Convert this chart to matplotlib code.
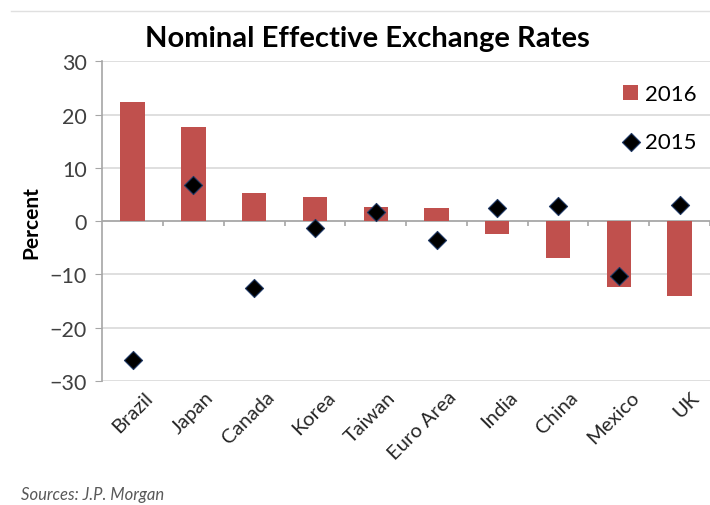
import matplotlib.pyplot as plt
import matplotlib.transforms as mtransforms
import numpy as np

plt.rcParams['font.family'] = ['Lato', 'DejaVu Sans']

# data
countries = ['Brazil', 'Japan', 'Canada', 'Korea', 'Taiwan', 'Euro Area',
             'India', 'China', 'Mexico', 'UK']
rates_2016 = [22.3, 17.6, 5.3, 4.5, 2.6, 2.4, -2.4, -6.9, -12.4, -14.1]
rates_2015 = [-26.0, 6.8, -12.6, -1.3, 1.7, -3.5, 2.4, 2.8, -10.3, 3.0]
yticks = [-30, -20, -10, 0, 10, 20, 30]

bar_color = '#C0504D'
grid_color = '#D9D9D9'

fig = plt.figure(figsize=(7.1, 5.06), dpi=100)
ax = fig.add_axes([0.144, 0.245, 0.856, 0.632])

x = np.arange(len(countries))
bars = ax.bar(x, rates_2016, width=0.4, color=bar_color, label='2016', zorder=3)
pts = ax.scatter(x, rates_2015, marker='D', s=85, color='black',
                 edgecolors='#1F3864', linewidths=0.8, label='2015', zorder=4)

# zero line with tick marks between categories, like Excel's category axis
ax.axhline(0, color='#A6A6A6', lw=1.2, zorder=2)
bounds = np.arange(len(countries) + 1) - 0.5
ax.vlines(bounds[1:], -0.9, 0, color='#A6A6A6', lw=1.2, zorder=2)

ax.set_xlim(-0.5, len(countries) - 0.5)
ax.set_ylim(-30, 30)
ax.set_yticks(yticks)
ax.yaxis.grid(True, color=grid_color, lw=1.2, zorder=0)
ax.set_axisbelow(True)

for s in ['top', 'right', 'bottom']:
    ax.spines[s].set_visible(False)
ax.spines['left'].set_color('#A6A6A6')
ax.spines['left'].set_linewidth(1.2)

ax.set_xticks(x)
ax.set_xticklabels(countries, rotation=45, ha='right', rotation_mode='anchor',
                   fontsize=14.5, color='#262626')
ax.tick_params(axis='x', length=0, pad=5)
ax.tick_params(axis='y', length=5, color='#A6A6A6', labelsize=15.5,
               labelcolor='#404040', pad=6)
# nudge the slanted labels a little to the right
shift = mtransforms.ScaledTranslation(8 / 72, 0, fig.dpi_scale_trans)
for lab in ax.get_xticklabels():
    lab.set_transform(lab.get_transform() + shift)

ax.set_ylabel('Percent', fontsize=15, fontweight='bold', labelpad=6)
fig.suptitle('Nominal Effective Exchange Rates', fontsize=21, fontweight='bold',
             x=0.517, y=0.948)

ax.legend([bars, pts], ['2016', '2015'], loc='upper right', frameon=False,
          fontsize=16, handlelength=0.7, handletextpad=0.3, labelspacing=1.25,
          borderaxespad=0.2, bbox_to_anchor=(1.0, 0.97))

# thin rule at the top of the picture
fig.add_artist(plt.Line2D([0.015, 1.0], [0.977, 0.977], color='#E0E0E0', lw=1))

fig.text(0.03, 0.012, 'Sources: J.P. Morgan', fontsize=12, style='italic',
         color='#595959')

fig.savefig('out.png', dpi=100)
